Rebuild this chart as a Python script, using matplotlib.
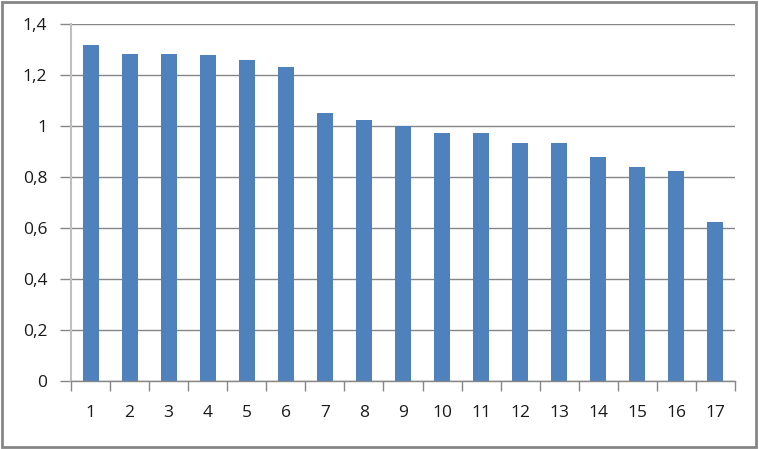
import numpy as np
import matplotlib
matplotlib.use("Agg")
import matplotlib.pyplot as plt
from matplotlib.patches import Rectangle
from matplotlib.ticker import FuncFormatter, FixedLocator

# 資料
categories = [str(i) for i in range(1, 18)]
values = [1.318, 1.282, 1.282, 1.278, 1.259, 1.231, 1.051, 1.024, 0.999,
          0.973, 0.973, 0.933, 0.933, 0.878, 0.840, 0.824, 0.625]
y_ticks = [0, 0.2, 0.4, 0.6, 0.8, 1.0, 1.2, 1.4]

plt.rcParams['font.family'] = ['Open Sans', 'DejaVu Sans']

fig = plt.figure(figsize=(7.59, 4.49), dpi=100)
ax = fig.add_axes([71 / 759, 1 - 381 / 449, (735 - 71) / 759, (381 - 24.3) / 449])

x = np.arange(len(categories))
ax.bar(x, values, width=0.41, color='#4F81BD', zorder=3)

ax.set_xlim(-0.5, len(categories) - 0.5)
ax.set_ylim(0, 1.4)
ax.set_yticks(y_ticks)
ax.yaxis.set_major_formatter(FuncFormatter(lambda v, p: f"{v:g}".replace('.', ',')))
ax.grid(True, axis='y', color='#868686', linewidth=1.0, zorder=0)

ax.set_xticks(x)
ax.set_xticklabels(categories)
ax.xaxis.set_minor_locator(FixedLocator(np.arange(-0.5, len(categories), 1.0)))
ax.tick_params(axis='x', which='major', length=0, pad=17, labelsize=12.5, labelcolor='#1a1a1a')
ax.tick_params(axis='x', which='minor', length=7, width=1, color='#868686')
ax.tick_params(axis='y', length=8, width=1, color='#868686', pad=9, labelsize=12.5, labelcolor='#1a1a1a')

for s in ['top', 'right']:
    ax.spines[s].set_visible(False)
ax.spines['left'].set_color('#BFBFBF')
ax.spines['left'].set_linewidth(1.5)
ax.spines['bottom'].set_color('#868686')
ax.spines['bottom'].set_linewidth(1.0)
ax.spines['bottom'].set_zorder(4)

# 外框
fig.patches.append(Rectangle((2 / 759, 2 / 449), 754 / 759, 445 / 449,
                             transform=fig.transFigure, fill=False,
                             edgecolor='#868686', linewidth=2))

fig.savefig("out.png", dpi=100, facecolor='white')
